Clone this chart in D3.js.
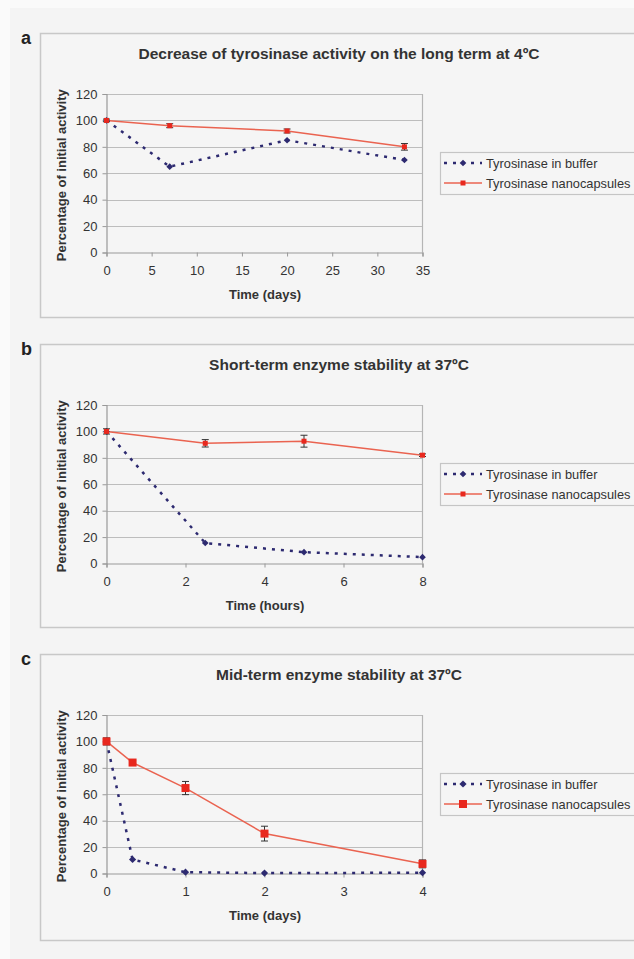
<!DOCTYPE html>
<html>
<head>
<meta charset="utf-8">
<script src="https://cdn.jsdelivr.net/npm/d3@7"></script>
<style>
  body { margin: 0; background: #fafafa; }
  svg { display: block; font-family: "Liberation Sans", Arial, sans-serif; }
</style>
</head>
<body>
<div id="chart"></div>
<script>
// panel a - long term at 4 C
const timeA = [0, 7, 20, 33];
const bufferA = [100, 65, 85, 70];
const nanoA = [100, 96, 92, 80];
const nanoErrA = [1, 1.5, 1.5, 2.5];
const ticksA = [0, 5, 10, 15, 20, 25, 30, 35];

// panel b - short term at 37 C
const timeB = [0, 2.5, 5, 8];
const bufferB = [100, 15.5, 8.6, 4.8];
const nanoB = [100, 91, 92.6, 82];
const nanoErrB = [2, 2.8, 4.5, 1];
const ticksB = [0, 2, 4, 6, 8];

// panel c - mid term at 37 C
const timeC = [0, 0.33, 1, 2, 4];
const bufferC = [100, 10.6, 1, 0.3, 0.6];
const nanoC = [100, 84, 64.7, 30.2, 7.3];
const nanoErrC = [2.7, 1.5, 5, 5.6, 3];
const ticksC = [0, 1, 2, 3, 4];

const yTicks = [0, 20, 40, 60, 80, 100, 120];
const seriesNames = ['Tyrosinase in buffer', 'Tyrosinase nanocapsules'];

const panels = [
  { letter: 'a', title: 'Decrease of tyrosinase activity on the long term at 4ºC', xTitle: 'Time (days)',
    time: timeA, buffer: bufferA, nano: nanoA, err: nanoErrA, ticks: ticksA, top: 33, bottom: 317, big: false },
  { letter: 'b', title: 'Short-term enzyme stability at 37ºC', xTitle: 'Time (hours)',
    time: timeB, buffer: bufferB, nano: nanoB, err: nanoErrB, ticks: ticksB, top: 344, bottom: 627, big: false },
  { letter: 'c', title: 'Mid-term enzyme stability at 37ºC', xTitle: 'Time (days)',
    time: timeC, buffer: bufferC, nano: nanoC, err: nanoErrC, ticks: ticksC, top: 654, bottom: 940, big: true }
];

const W = 634, H = 959;
const navy = '#2d2a70', red = '#e8281e', redLine = '#ea6350';

const svg = d3.select('#chart').append('svg')
  .attr('width', W).attr('height', H);

svg.append('rect').attr('x', 10).attr('y', 8).attr('width', W).attr('height', H)
  .attr('fill', '#f4f4f4');

const drawPanel = (p) => {
  const g = svg.append('g');

  g.append('rect')
    .attr('x', 40.5).attr('y', p.top + 0.5)
    .attr('width', 640).attr('height', p.bottom - p.top)
    .attr('fill', '#f5f5f5').attr('stroke', '#c8c8c8').attr('stroke-width', 1.5);

  g.append('text').attr('x', 21).attr('y', p.top + 11)
    .style('font-size', '18px').style('font-weight', 'bold').attr('fill', '#222')
    .text(p.letter);

  g.append('text').attr('x', 339).attr('y', p.top + 26)
    .attr('text-anchor', 'middle')
    .style('font-size', '15.5px').style('font-weight', 'bold').attr('fill', '#333')
    .text(p.title);

  const plotTop = p.top + 61, plotBottom = plotTop + 158.5;
  const x = d3.scaleLinear().domain([0, d3.max(p.ticks)]).range([106.5, 422.5]);
  const y = d3.scaleLinear().domain([0, 120]).range([plotBottom, plotTop]);

  // grid
  g.append('g').selectAll('line').data(yTicks.slice(1)).join('line')
    .attr('x1', x(0)).attr('x2', x.range()[1])
    .attr('y1', d => Math.round(y(d)) + 0.5).attr('y2', d => Math.round(y(d)) + 0.5)
    .attr('stroke', '#bdbdbd').attr('stroke-width', 1.2);
  g.append('line')
    .attr('x1', x.range()[1]).attr('x2', x.range()[1])
    .attr('y1', y(120)).attr('y2', y(0))
    .attr('stroke', '#b5b5b5').attr('stroke-width', 1.2);

  const yAxis = g.append('g').attr('transform', `translate(${x(0)},0)`)
    .call(d3.axisLeft(y).tickValues(yTicks).tickSize(4).tickPadding(5));
  const xAxis = g.append('g').attr('transform', `translate(0,${y(0)})`)
    .call(d3.axisBottom(x).tickValues(p.ticks).tickFormat(d3.format('~g')).tickSize(4).tickPadding(9));
  [yAxis, xAxis].forEach(a => {
    a.select('.domain').attr('stroke', '#999').attr('stroke-width', 1.2);
    a.selectAll('.tick line').attr('stroke', '#999');
    a.selectAll('text').style('font-size', '13px').attr('fill', '#333')
      .style('font-family', '"Liberation Sans", Arial, sans-serif');
  });

  g.append('text').attr('x', 265).attr('y', plotBottom + 46)
    .attr('text-anchor', 'middle')
    .style('font-size', '13px').style('font-weight', 'bold').attr('fill', '#333')
    .text(p.xTitle);

  g.append('text')
    .attr('transform', `translate(66,${(plotTop + plotBottom) / 2 + 2}) rotate(-90)`)
    .attr('text-anchor', 'middle')
    .style('font-size', '13px').style('font-weight', 'bold').attr('fill', '#333')
    .text('Percentage of initial activity');

  const line = d3.line().x(d => x(d[0])).y(d => y(d[1]));
  const bufPts = p.time.map((t, i) => [t, p.buffer[i]]);
  const nanoPts = p.time.map((t, i) => [t, p.nano[i], p.err[i]]);

  g.append('path').datum(bufPts).attr('d', line)
    .attr('fill', 'none').attr('stroke', navy).attr('stroke-width', 2.5)
    .attr('stroke-dasharray', '3,6');

  g.append('path').datum(nanoPts).attr('d', line)
    .attr('fill', 'none').attr('stroke', redLine).attr('stroke-width', 1.5);

  // diamond = square turned 45 degrees
  const diamond = d3.symbol().type(d3.symbolSquare).size(p.big ? 26 : 22);
  g.append('g').selectAll('path').data(bufPts).join('path')
    .attr('transform', d => `translate(${x(d[0])},${y(d[1])}) rotate(45)`)
    .attr('d', diamond).attr('fill', navy);

  // error bars
  const eb = g.append('g').selectAll('g').data(nanoPts).join('g').attr('stroke', '#333').attr('stroke-width', 1);
  eb.append('line').attr('x1', d => x(d[0])).attr('x2', d => x(d[0]))
    .attr('y1', d => y(d[1] - d[2])).attr('y2', d => y(d[1] + d[2]));
  eb.append('line').attr('x1', d => x(d[0]) - 3.5).attr('x2', d => x(d[0]) + 3.5)
    .attr('y1', d => y(d[1] + d[2])).attr('y2', d => y(d[1] + d[2]));
  eb.append('line').attr('x1', d => x(d[0]) - 3.5).attr('x2', d => x(d[0]) + 3.5)
    .attr('y1', d => y(d[1] - d[2])).attr('y2', d => y(d[1] - d[2]));

  const sq = p.big ? 8 : 5;
  g.append('g').selectAll('rect').data(nanoPts).join('rect')
    .attr('x', d => x(d[0]) - sq / 2).attr('y', d => y(d[1]) - sq / 2)
    .attr('width', sq).attr('height', sq).attr('fill', red);

  // legend
  const lx = 440, ly = plotTop + 58;
  g.append('rect').attr('x', lx + 0.5).attr('y', ly + 0.5).attr('width', 220).attr('height', 42)
    .attr('fill', 'none').attr('stroke', '#c5c5c5').attr('stroke-width', 1.2);
  const items = g.append('g').selectAll('g').data(seriesNames).join('g')
    .attr('transform', (d, i) => `translate(${lx},${ly + 11 + i * 20})`);
  items.append('line').attr('x1', 4).attr('x2', 42).attr('y1', 0).attr('y2', 0)
    .attr('stroke', (d, i) => i ? redLine : navy)
    .attr('stroke-width', (d, i) => i ? 1.5 : 2.5)
    .attr('stroke-dasharray', (d, i) => i ? null : '3,6');
  items.filter((d, i) => i === 0).append('path')
    .attr('transform', 'translate(23,0) rotate(45)').attr('d', diamond).attr('fill', navy);
  items.filter((d, i) => i === 1).append('rect')
    .attr('x', 23 - sq / 2).attr('y', -sq / 2).attr('width', sq).attr('height', sq).attr('fill', red);
  items.append('text').attr('x', 46).attr('y', 4.5)
    .style('font-size', '12.8px').attr('fill', '#333').text(d => d);
};

panels.forEach(drawPanel);
</script>
</body>
</html>
